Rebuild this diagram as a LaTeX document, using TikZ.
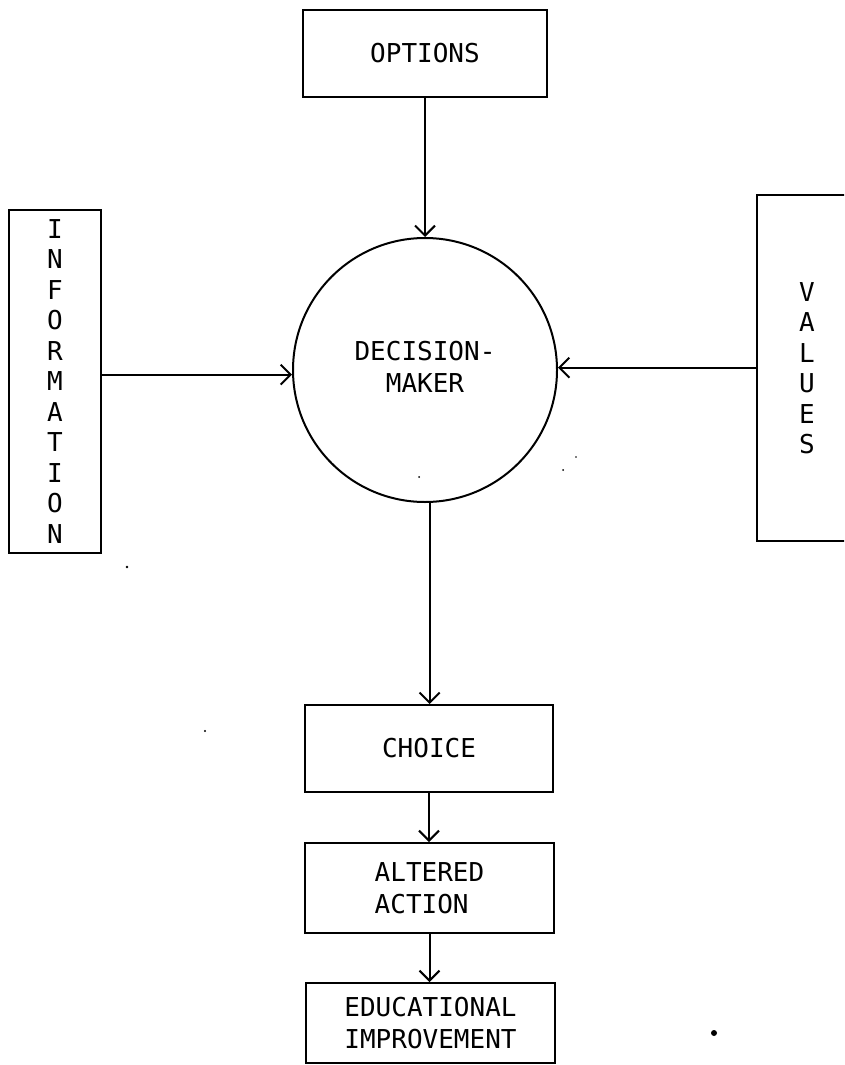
\documentclass[tikz,border=0pt]{standalone}
\usepackage{fontspec}
\newfontfamily\labfont{DejaVu Sans Mono}
\usetikzlibrary{arrows.meta}
\begin{document}
\begin{tikzpicture}[x=1pt,y=-1pt,
  line width=2pt,
  box/.style={draw, rectangle, inner sep=0pt, font=\labfont\fontsize{26}{32}\selectfont, align=center},
  vbox/.style={draw, rectangle, inner sep=0pt, font=\labfont\fontsize{26}{30.5}\selectfont, align=center},
  arr/.style={-{Straight Barb[length=10pt,width=20pt]}, line width=2pt},
  speck/.style={fill=black, draw=none}]
\clip (0,0) rectangle (844,1065);
\fill[white] (0,0) rectangle (844,1065);
\node[box, minimum width=244pt, minimum height=87pt] (options) at (425,53.5) {OPTIONS};
\node[draw, circle, minimum size=264pt, inner sep=0pt, font=\labfont\fontsize{26}{32}\selectfont, align=center] (dm) at (425,370) {\raisebox{-7pt}{\begin{tabular}{@{}c@{}}DECISION-\\[0pt]MAKER\end{tabular}}};
\node[vbox, minimum width=92pt, minimum height=343pt] (info) at (55,381.5) {I\\N\\F\\O\\R\\M\\A\\T\\I\\O\\N};
\node[vbox, minimum width=100pt, minimum height=346pt] (values) at (807,368) {V\\A\\L\\U\\E\\S};
\node[box, minimum width=248pt, minimum height=87pt] (choice) at (429,748.5) {CHOICE};
\node[box, align=left, minimum width=249pt, minimum height=90pt] (altered) at (429.5,888) {ALTERED\\ACTION};
\node[box, minimum width=249pt, minimum height=80pt] (edu) at (430.5,1023) {EDUCATIONAL\\IMPROVEMENT};
\draw[arr] (options.south) -- (dm.north);
\draw[arr] (info.east |- dm.182.6) -- (dm.182.6);
\draw[arr] (values.west |- dm.1.7) -- (dm.1.7);
\draw[arr] (dm.272) -- (dm.272 |- choice.north);
\draw[arr] (choice.south) -- (choice.south |- altered.north);
\draw[arr] (altered.south) -- (altered.south |- edu.north);
\fill[speck] (419,477) circle (1pt);
\fill[speck] (127,567) circle (1.4pt);
\fill[speck] (205,731) circle (1.2pt);
\fill[speck] (563,470) circle (1pt);
\fill[speck] (576,457) circle (0.8pt);
\fill[speck] (714,1033) circle (3pt);
\end{tikzpicture}
\end{document}
